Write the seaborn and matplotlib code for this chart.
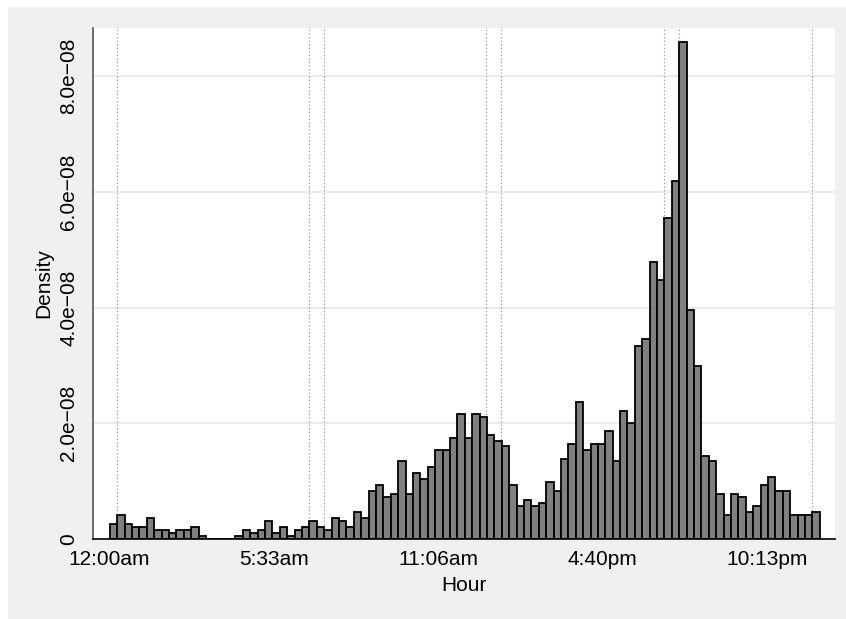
import numpy as np
import pandas as pd
import matplotlib
matplotlib.use("Agg")
import matplotlib.pyplot as plt
from matplotlib.patches import Rectangle
import seaborn as sns

# ---- data (time of day in milliseconds since midnight) ----
bin_start_ms = 60000
bin_width_ms = 900000  # 15 minutes
density_e9 = [
    2.59, 4.15, 2.59, 2.07, 2.07, 3.63, 1.56, 1.56, 1.04, 1.56, 1.56, 2.07, 0.52,
    0, 0, 0, 0,
    0.52, 1.56, 1.04, 1.56, 3.11, 1.04, 2.07, 0.52, 1.56, 2.07, 3.11, 2.07, 1.56,
    3.63, 3.11, 2.07, 4.67,
    3.63, 8.30, 9.28, 7.26, 7.78, 13.4, 7.78, 11.35, 10.3, 12.4, 15.4, 15.4, 17.5,
    21.6, 17.5, 21.6, 21.1, 18.0, 17.0, 16.0, 9.28, 5.70, 6.74, 5.70, 6.22, 9.80,
    8.30, 13.9, 16.5, 23.7, 15.4,
    16.5, 16.5, 18.6, 13.4, 22.1, 20.1,
    33.4, 34.5, 47.9, 44.8, 55.5, 61.8, 85.9, 39.6, 29.9,
    14.4, 13.4, 7.72, 4.15, 7.72, 7.26, 4.67, 5.70, 9.28, 10.8, 8.24, 8.24,
    4.15, 4.15, 4.15, 4.67,
]
ref_lines_ms = [900000, 24300000, 26100000, 45900000, 47700000,
                67500000, 69300000, 85500000]
xtick_values = [0, 20000000, 40000000, 60000000, 80000000]
xtick_labels = ["12:00am", "5:33am", "11:06am", "4:40pm", "10:13pm"]
ytick_values = [0, 2e-8, 4e-8, 6e-8, 8e-8]
ytick_labels = ["0", "2.0e\u221208", "4.0e\u221208", "6.0e\u221208", "8.0e\u221208"]

nb = len(density_e9)
edges = [bin_start_ms + bin_width_ms * i for i in range(nb + 1)]
centers = [(edges[i] + edges[i + 1]) / 2 for i in range(nb)]
df = pd.DataFrame({"hour": centers, "density": np.array(density_e9) * 1e-9})

sns.set_style("white")
plt.rcParams["font.family"] = ["Liberation Sans", "DejaVu Sans"]
plt.rcParams["text.color"] = "black"
plt.rcParams["axes.labelcolor"] = "black"

W, H = 846, 619
fig = plt.figure(figsize=(W / 100, H / 100), dpi=100, facecolor="#f0f0f0")
# white strips on the top and left edges
fig.patches.append(Rectangle((0, 1 - 7 / H), 1, 7 / H, transform=fig.transFigure,
                             facecolor="white", edgecolor="none", zorder=-5))
fig.patches.append(Rectangle((0, 0), 8 / W, 1, transform=fig.transFigure,
                             facecolor="white", edgecolor="none", zorder=-5))
ax = fig.add_axes([93 / W, 1 - 539 / H, (835 - 93) / W, (539 - 28) / H])
ax.set_facecolor("white")

for v in ytick_values[1:]:
    ax.axhline(v, color="#e6e6e6", lw=1.1, zorder=0)
for v in ref_lines_ms:
    ax.axvline(v, color="#8a8a8a", lw=0.8, ls=(0, (1, 2.2)), zorder=1)

sns.histplot(data=df, x="hour", weights="density", bins=edges, stat="count",
             color="#808080", edgecolor="black", linewidth=1.3, alpha=1,
             ax=ax, zorder=2)

ax.set_xlim(-1.98e6, 88.31e6)
ax.set_ylim(0, 8.833e-8)
ax.set_xticks(xtick_values)
ax.set_xticklabels(xtick_labels)
ax.set_yticks(ytick_values)
ax.set_yticklabels(ytick_labels, rotation=90, va="center")
ax.tick_params(axis="both", direction="out", length=5.6, width=1,
               color="black", labelsize=15, labelcolor="black")
ax.tick_params(axis="x", pad=2)
ax.tick_params(axis="y", pad=5)

for s in ["top", "right"]:
    ax.spines[s].set_visible(False)
ax.spines["left"].set_color("#555555")
ax.spines["left"].set_linewidth(1.2)
ax.spines["bottom"].set_color("black")
ax.spines["bottom"].set_linewidth(1.2)

ax.set_xlabel("Hour", fontsize=15, color="black")
ax.set_ylabel("Density", fontsize=15, color="black")
ax.xaxis.set_label_coords(0.5, -0.072)
ax.yaxis.set_label_coords(-0.054, 0.5)

fig.savefig("out.png", dpi=100, facecolor=fig.get_facecolor())
